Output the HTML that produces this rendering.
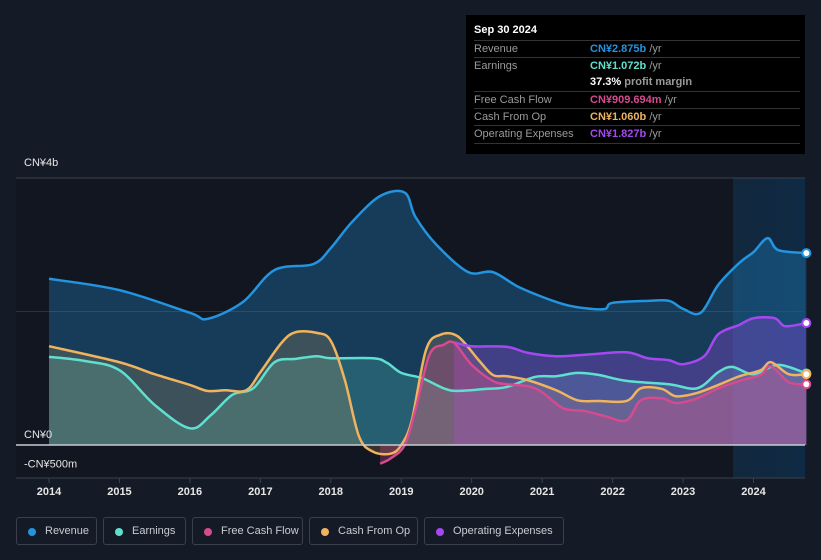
<!DOCTYPE html>
<html><head><meta charset="utf-8"><style>
body{margin:0;background:#151b26;font-family:"Liberation Sans",sans-serif;}
#wrap{position:relative;width:821px;height:560px;overflow:hidden;background:#151b26;}
.tt{position:absolute;left:466px;top:15px;width:339px;height:139px;background:#000;color:#fff;font-size:11px;}
.tt .row{position:absolute;left:8px;width:326px;border-top:1px solid #333;height:17px;line-height:17px;color:#9a9a9a;}
.tt .v{position:absolute;left:116px;font-weight:bold;}
.lg{position:absolute;top:517px;height:28px;border:1px solid #3a404c;border-radius:3px;color:#c8ccd2;font-size:11px;line-height:27px;box-sizing:border-box;white-space:nowrap;}
.lg i{position:absolute;left:11px;top:10px;width:8px;height:8px;border-radius:50%;}
.lg span{position:absolute;left:28px;}
</style></head><body>
<div id="wrap">
<svg id="chart" width="821" height="560" style="position:absolute;left:0;top:0"></svg>
<div class="tt">
<div style="position:absolute;left:8px;top:9px;font-size:11px;font-weight:bold">Sep 30 2024</div>
<div class="row" style="top:25px">Revenue<span class="v" style="color:#2394df">CN¥2.875b <span style="color:#9a9a9a;font-weight:normal">/yr</span></span></div>
<div class="row" style="top:42px">Earnings<span class="v" style="color:#5fe0cf">CN¥1.072b <span style="color:#9a9a9a;font-weight:normal">/yr</span></span></div>
<div class="row" style="top:59px;border-top:none"><span class="v" style="color:#fff">37.3% <span style="color:#9a9a9a">profit margin</span></span></div>
<div class="row" style="top:76px">Free Cash Flow<span class="v" style="color:#d64a8f">CN¥909.694m <span style="color:#9a9a9a;font-weight:normal">/yr</span></span></div>
<div class="row" style="top:93px">Cash From Op<span class="v" style="color:#f0b35e">CN¥1.060b <span style="color:#9a9a9a;font-weight:normal">/yr</span></span></div>
<div class="row" style="top:110px;border-bottom:1px solid #333">Operating Expenses<span class="v" style="color:#a648ef">CN¥1.827b <span style="color:#9a9a9a;font-weight:normal">/yr</span></span></div>
</div>
<div class="lg" style="left:16px;width:81px"><i style="background:#2394df"></i><span>Revenue</span></div>
<div class="lg" style="left:103px;width:83px"><i style="background:#5fe0cf"></i><span>Earnings</span></div>
<div class="lg" style="left:192px;width:111px"><i style="background:#d64a8f"></i><span>Free Cash Flow</span></div>
<div class="lg" style="left:309px;width:109px"><i style="background:#f0b35e"></i><span>Cash From Op</span></div>
<div class="lg" style="left:424px;width:140px"><i style="background:#a648ef"></i><span>Operating Expenses</span></div>
</div>
<script>
const years=[2014,2015,2016,2017,2018,2019,2020,2021,2022,2023,2024];
const yTickVals=[4,0,-0.5];
const yTickLabels=["CN¥4b","CN¥0","-CN¥500m"];
const revT=[2014,2015,2016,2016.25,2016.75,2017.2,2017.75,2018,2018.3,2018.7,2019.05,2019.2,2019.5,2019.95,2020.3,2020.7,2021.3,2021.7,2021.9,2022,2022.5,2022.8,2023,2023.25,2023.5,2023.8,2024,2024.2,2024.35,2024.75];
const revV=[2.49,2.32,1.98,1.89,2.14,2.62,2.71,2.95,3.34,3.73,3.78,3.42,3.0,2.59,2.59,2.35,2.11,2.04,2.04,2.13,2.16,2.16,2.04,1.98,2.40,2.73,2.89,3.10,2.92,2.875];
const earnT=[2014,2014.5,2015,2015.5,2016,2016.3,2016.6,2016.9,2017.2,2017.5,2017.8,2018,2018.6,2018.8,2019,2019.3,2019.6,2019.8,2020.2,2020.5,2020.9,2021.2,2021.5,2021.8,2022.2,2022.8,2023.2,2023.5,2023.7,2024,2024.35,2024.75];
const earnV=[1.32,1.26,1.12,0.60,0.25,0.45,0.75,0.85,1.24,1.29,1.33,1.30,1.30,1.23,1.08,1.0,0.85,0.81,0.84,0.87,1.02,1.03,1.08,1.05,0.96,0.91,0.85,1.09,1.17,1.06,1.2,1.072];
const cfoT=[2014,2015,2015.5,2016,2016.25,2016.5,2016.8,2017,2017.3,2017.5,2017.8,2018,2018.2,2018.4,2018.6,2018.85,2019,2019.15,2019.35,2019.55,2019.8,2020.1,2020.3,2020.5,2020.8,2021.2,2021.5,2021.8,2022.2,2022.4,2022.7,2022.9,2023.2,2023.5,2023.8,2024.1,2024.25,2024.5,2024.75];
const cfoV=[1.48,1.24,1.06,0.90,0.81,0.82,0.82,1.09,1.53,1.69,1.68,1.56,0.97,0.13,-0.10,-0.13,0,0.37,1.42,1.65,1.63,1.27,1.05,1.03,0.97,0.82,0.67,0.66,0.66,0.85,0.84,0.73,0.78,0.90,1.03,1.12,1.24,1.06,1.06];
const fcfT=[2018.7,2018.85,2019.05,2019.2,2019.4,2019.6,2019.75,2020,2020.3,2020.5,2020.8,2021,2021.3,2021.6,2021.9,2022.2,2022.4,2022.7,2022.9,2023.2,2023.5,2023.8,2024.1,2024.25,2024.5,2024.75];
const fcfV=[-0.28,-0.2,0,0.52,1.35,1.5,1.53,1.2,0.96,0.91,0.88,0.79,0.55,0.51,0.43,0.37,0.67,0.70,0.63,0.70,0.85,0.96,1.05,1.18,0.94,0.91];
const opexT=[2019.75,2020,2020.5,2020.8,2021.2,2021.7,2022.2,2022.5,2022.8,2023,2023.3,2023.5,2023.8,2024,2024.3,2024.45,2024.75];
const opexV=[1.54,1.48,1.47,1.38,1.33,1.36,1.39,1.30,1.27,1.21,1.33,1.66,1.80,1.90,1.90,1.78,1.827];

const NS="http://www.w3.org/2000/svg";
const svg=document.getElementById('chart');
const X=t=>49+(t-2014)*70.45;
const Y=v=>445-v*66.75;
function mk(tag,attrs,parent){const e=document.createElementNS(NS,tag);for(const k in attrs)e.setAttribute(k,attrs[k]);(parent||svg).appendChild(e);return e;}
function pathD(T,V){const p=T.map((t,i)=>[X(t),Y(V[i])]);let d="M"+p[0][0]+","+p[0][1];
for(let i=0;i<p.length-1;i++){const p0=p[i-1]||p[i],p1=p[i],p2=p[i+1],p3=p[i+2]||p2;
d+=" C"+(p1[0]+(p2[0]-p0[0])/6)+","+(p1[1]+(p2[1]-p0[1])/6)+" "+(p2[0]-(p3[0]-p1[0])/6)+","+(p2[1]-(p3[1]-p1[1])/6)+" "+p2[0]+","+p2[1];}return d;}

const defs=mk('defs',{});
const g=mk('linearGradient',{id:'fc',x1:0,x2:1,y1:0,y2:0},defs);
mk('stop',{offset:0,'stop-color':'#12283d'},g);mk('stop',{offset:1,'stop-color':'#0f2a44'},g);
let r=mk('rect',{x:16,y:178,width:717,height:300,fill:'#111620'});

r=mk('rect',{x:733,y:178,width:72,height:300,fill:'url(#fc)'});

let l=mk('line',{x1:16,x2:805,y1:178,y2:178,stroke:'#3a404c'});

l=mk('line',{x1:16,x2:805,y1:Y(2),y2:Y(2),stroke:'#2a3140'});


const series=[
 ['revenue',revT,revV,'#2394df',0.3],
 ['earnings',earnT,earnV,'#5fe0cf',0.22],
 ['cash-from-op',cfoT,cfoV,'#f0b35e',0.18],
 ['operating-expenses',opexT,opexV,'#a648ef',0.3],
 ['free-cash-flow',fcfT,fcfV,'#d64a8f',0.3]];
series.forEach(([n,T,V,c,o])=>{
 const d=pathD(T,V);
 const a=mk('path',{d:d+" L"+X(T[T.length-1])+","+Y(0)+" L"+X(T[0])+","+Y(0)+"Z",fill:c,'fill-opacity':o});
 
});
series.forEach(([n,T,V,c])=>{
 const p=mk('path',{d:pathD(T,V),fill:'none',stroke:c,'stroke-width':2.5});
 
 const ci=mk('circle',{cx:X(T[T.length-1]),cy:Y(V[V.length-1]),r:4,fill:'#fff',stroke:c,'stroke-width':2});
 
});
l=mk('line',{x1:16,x2:805,y1:Y(0),y2:Y(0),stroke:'#c8ccd2','stroke-width':1.5});

l=mk('line',{x1:16,x2:805,y1:478,y2:478,stroke:'#3a404c'});

yTickVals.forEach((v,i)=>{const t=mk('text',{x:24,y:Y(v)-7+(v<0?-4:0)+(v==4?-5:0),fill:'#e6e6e6','font-size':11});
 t.textContent=yTickLabels[i];
 });
years.forEach(y=>{const tk=mk('line',{x1:X(y),x2:X(y),y1:478,y2:483,stroke:'#3a404c'});
 
 const t=mk('text',{x:X(y),y:495,fill:'#e6e6e6','font-size':11,'font-weight':'bold','text-anchor':'middle'});
 t.textContent=y;});
</script>
</body></html>
